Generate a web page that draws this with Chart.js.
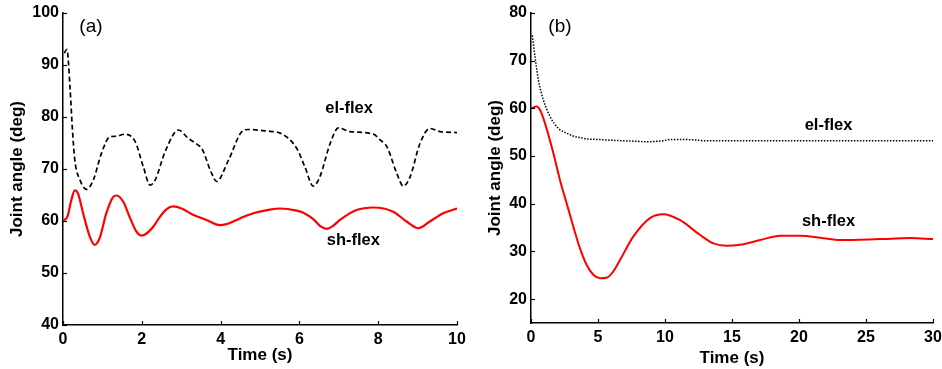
<!DOCTYPE html>
<html><head><meta charset="utf-8">
<script src="https://cdn.jsdelivr.net/npm/chart.js@4.4.0/dist/chart.umd.min.js"></script>
<style>
html,body{margin:0;padding:0;background:#fff;overflow:hidden;}
#wa{position:absolute;left:0;top:0;width:470px;height:369px;}
#wb{position:absolute;left:470px;top:0;width:472px;height:369px;}
</style></head><body>
<div id="wa"><canvas id="ca"></canvas></div>
<div id="wb"><canvas id="cb"></canvas></div>
<script>
// ---- Panel (a) data ----
const elA_t = [0.03,0.1,0.18,0.24,0.3,0.43,0.6,0.77,0.98,1.19,1.35,1.57,1.83,2.04,2.21,2.34,2.59,2.93,3.18,3.43,3.52,3.77,3.9,4.2,4.54,4.7,5.17,5.51,5.93,6.14,6.35,6.52,6.78,6.99,7.28,7.88,8.05,8.22,8.47,8.64,8.81,9.06,9.31,9.57,10];
const elA_v = [92.3,93.0,85.4,77.5,71.7,67.9,66.1,67.9,73.1,76.2,76.3,76.7,75.3,70.4,66.9,67.9,73.3,77.5,75.9,74.6,74.0,69.2,67.6,71.7,77.2,77.6,77.3,76.9,74.0,70.4,66.7,68.5,74.9,77.9,77.2,76.7,75.6,74.3,69.2,66.7,68.5,74.9,77.8,77.2,77.0];
const shA_t = [0,0.11,0.21,0.3,0.38,0.51,0.68,0.8,0.93,1.1,1.27,1.36,1.53,1.69,1.86,1.99,2.12,2.29,2.46,2.63,2.8,3.01,3.3,3.64,3.98,4.15,4.49,4.83,5.25,5.51,5.93,6.1,6.36,6.53,6.69,6.86,7.03,7.45,7.88,8.38,8.72,9.02,9.31,9.65,10];
const shA_v = [60.1,60.8,64.0,65.9,65.3,61.5,57.0,55.4,56.7,61.5,64.6,64.9,63.7,60.8,58.0,57.2,57.6,58.9,60.8,62.3,62.8,62.4,61.2,60.2,59.2,59.4,60.5,61.5,62.2,62.4,62.0,61.6,60.3,59.0,58.5,59.1,60.2,62.1,62.6,61.8,59.9,58.6,59.9,61.5,62.4];
const xTicksA = [0,2,4,6,8,10];
const yTicksA = [40,50,60,70,80,90,100];

// ---- Panel (b) data ----
const elB_t = [0.1,0.3,0.55,0.92,1.42,2.04,2.66,3.15,3.65,4.15,4.9,6.14,7.88,8.6,9.37,9.85,10.4,10.85,12.1,13.1,15,20,25,30];
const elB_v = [75.3,70.8,66.0,61.8,58.3,55.8,54.8,54.2,53.9,53.6,53.5,53.3,53.1,53.0,53.1,53.2,53.5,53.5,53.4,53.2,53.2,53.2,53.2,53.2];
const shB_t = [0,0.43,0.67,1.04,1.67,2.16,2.66,3.16,3.65,4.15,4.65,5.15,5.64,6.14,6.64,7.63,8.88,9.87,11.1,12.6,13.6,14.6,15.6,17.1,18.6,20.1,21.6,23.1,26.0,28.3,30];
const shB_v = [60.0,60.4,59.7,56.9,50.6,45.0,40.1,35.2,30.7,27.2,25.1,24.4,24.5,25.8,28.2,33.1,37.0,37.8,36.6,33.5,31.7,31.2,31.4,32.4,33.3,33.3,32.9,32.4,32.6,32.8,32.6];
const xTicksB = [0,5,10,15,20,25,30];
const yTicksB = [20,30,40,50,60,70,80];

const FONT = "'Liberation Sans', Arial, Helvetica, sans-serif";
const zip = (t,v) => t.map((x,i)=>({x:x,y:v[i]}));

const inward = {
  id:'inward',
  afterDraw(chart, args, opts){
    const ctx = chart.ctx, xs = chart.scales.x, ys = chart.scales.y, a = chart.chartArea;
    ctx.save();
    ctx.strokeStyle = '#000'; ctx.lineWidth = 1.2;
    ys.ticks.forEach(t=>{const y = Math.round(ys.getPixelForValue(t.value))+0.5; ctx.beginPath(); ctx.moveTo(a.left,y); ctx.lineTo(a.left+4,y); ctx.stroke();});
    xs.ticks.forEach(t=>{const x = Math.round(xs.getPixelForValue(t.value))+0.5; ctx.beginPath(); ctx.moveTo(x,a.bottom); ctx.lineTo(x,a.bottom-4); ctx.stroke();});
    ctx.fillStyle = '#000'; ctx.textAlign = 'center'; ctx.textBaseline = 'middle';
    (opts.labels||[]).forEach(l=>{ctx.font = l.font; ctx.fillText(l.text, xs.getPixelForValue(l.x), ys.getPixelForValue(l.y));});
    ctx.restore();
  }
};

function makeChart(id, cfg){
  const tickFont = {family:FONT, size:16, weight:'bold'};
  const titleFont = {family:FONT, size:17, weight:'bold'};
  return new Chart(document.getElementById(id), {
    type:'line',
    data:{datasets:cfg.datasets},
    options:{
      responsive:true, maintainAspectRatio:false, animation:false,
      layout:{padding:{left:0,right:cfg.padRight,top:13,bottom:0}},
      plugins:{legend:{display:false}, tooltip:{enabled:false}, inward:{labels:cfg.labels}},
      elements:{point:{radius:0}},
      scales:{
        x:{type:'linear', min:cfg.xTicks[0], max:cfg.xTicks[cfg.xTicks.length-1],
           afterBuildTicks:s=>{s.ticks = cfg.xTicks.map(v=>({value:v}));},
           ticks:{color:'#000', font:tickFont, padding:5, maxRotation:0, autoSkip:false},
           grid:{display:false, drawTicks:false},
           border:{display:true, color:'#000', width:1.5},
           title:{display:true, text:'Time (s)', color:'#000', font:titleFont, padding:{top:0,bottom:cfg.xTitlePad}},
           afterFit:s=>{s.height = cfg.xH; s.paddingLeft=0; s.paddingRight=0;}},
        y:{type:'linear', min:cfg.yMin, max:cfg.yMax,
           afterBuildTicks:s=>{s.ticks = cfg.yTicks.map(v=>({value:v}));},
           ticks:{color:'#000', font:tickFont, padding:4, autoSkip:false},
           grid:{display:false, drawTicks:false},
           border:{display:true, color:'#000', width:1.5},
           title:{display:true, text:'Joint angle (deg)', color:'#000', font:titleFont, padding:{top:cfg.yTitlePad,bottom:0}},
           afterFit:s=>{s.width = cfg.yW; s.paddingTop=0; s.paddingBottom=0;}}
      }
    },
    plugins:[inward]
  });
}

makeChart('ca', {
  padRight:13, xH:44, yW:63, xTitlePad:3, yTitlePad:7, yMin:40, yMax:100,
  xTicks:xTicksA, yTicks:yTicksA,
  datasets:[
    {data:zip(elA_t,elA_v), borderColor:'#000', borderWidth:1.7, borderDash:[5,3], cubicInterpolationMode:'monotone', fill:false},
    {data:zip(shA_t,shA_v), borderColor:'#ff0000', borderWidth:2.2, cubicInterpolationMode:'monotone', fill:false}
  ],
  labels:[
    {text:'(a)', x:0.71, y:97.3, font:"19px "+FONT},
    {text:'el-flex', x:7.26, y:81.7, font:"bold 16.5px "+FONT},
    {text:'sh-flex', x:7.37, y:56.2, font:"bold 16.5px "+FONT}
  ]
});

makeChart('cb', {
  padRight:9, xH:46, yW:61, xTitlePad:0, yTitlePad:15, yMin:15, yMax:80,
  xTicks:xTicksB, yTicks:yTicksB,
  datasets:[
    {data:zip(elB_t,elB_v), borderColor:'#000', borderWidth:1.5, borderDash:[1.5,1.5], cubicInterpolationMode:'monotone', fill:false},
    {data:zip(shB_t,shB_v), borderColor:'#ff0000', borderWidth:2, cubicInterpolationMode:'monotone', fill:false}
  ],
  labels:[
    {text:'(b)', x:2.16, y:77.1, font:"19px "+FONT},
    {text:'el-flex', x:22.2, y:56.5, font:"bold 16.5px "+FONT},
    {text:'sh-flex', x:22.2, y:36.2, font:"bold 16.5px "+FONT}
  ]
});
</script>
</body></html>
